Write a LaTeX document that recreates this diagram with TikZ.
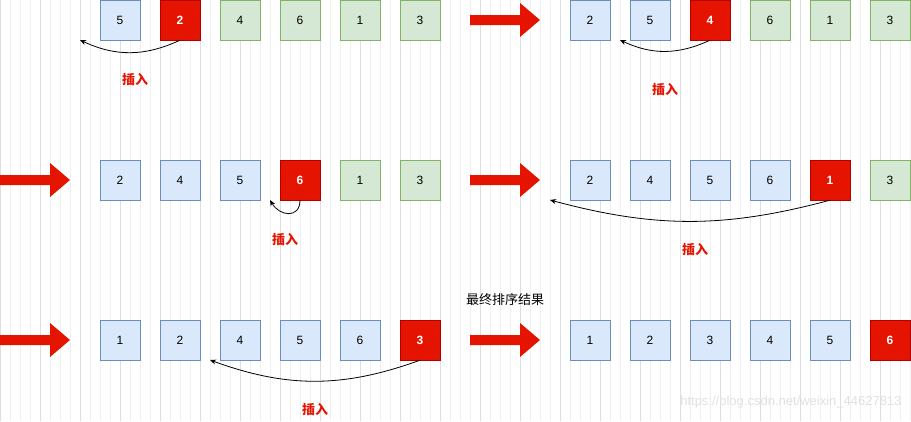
\documentclass[tikz,border=0pt]{standalone}
\usepackage{fontspec}
\setmainfont{Liberation Sans}
\newfontfamily\cjk{Noto Sans CJK SC}
\usetikzlibrary{arrows.meta}
\definecolor{bluefill}{HTML}{DAE8FC}
\definecolor{bluedraw}{HTML}{6C8EBF}
\definecolor{greenfill}{HTML}{D5E8D4}
\definecolor{greendraw}{HTML}{82B366}
\definecolor{redfill}{HTML}{E51400}
\definecolor{reddraw}{HTML}{B20000}
\tikzset{
  cell/.style={minimum size=40pt,inner sep=0pt,font=\fontsize{12}{12}\selectfont},
  sorted/.style={cell,draw=bluedraw,fill=bluefill},
  unsorted/.style={cell,draw=greendraw,fill=greenfill},
  current/.style={cell,draw=reddraw,fill=redfill,text=white,font=\fontsize{12}{12}\selectfont\bfseries},
  insertlabel/.style={text=redfill,font=\cjk\fontsize{13}{13}\selectfont\bfseries},
  move/.style={-{Stealth[length=6pt,width=5pt]},thick},
}
\newcommand{\bigarrow}[2]{% block arrow, left end at (#1,#2)
  \fill[redfill] (#1,#2-5) -- ++(50,0) -- ++(0,-12) -- ++(20,17) -- ++(-20,17) -- ++(0,-12) -- ++(-50,0) -- cycle;}
\begin{document}
\begin{tikzpicture}[x=1pt,y=-1pt]
  \useasboundingbox (0,0) rectangle (911,421);
  \draw[black!6,line width=0.5pt] (0,0) grid[step=10] (911,421);
  \draw[black!13,line width=0.5pt] (0,0) grid[step=40] (911,421);

  % row 1
  \foreach \v/\s [count=\i] in {5/sorted,2/current,4/unsorted,6/unsorted,1/unsorted,3/unsorted}
    \node[\s] (a\i) at (60+60*\i,20) {\v};
  \foreach \v/\s [count=\i] in {2/sorted,5/sorted,4/current,6/unsorted,1/unsorted,3/unsorted}
    \node[\s] (b\i) at (530+60*\i,20) {\v};
  \bigarrow{470}{20}
  \coordinate (a0) at (80,40);
  \coordinate (b0) at (620,40);
  \draw[move] (a2.south) to[bend left=25] (a0);
  \draw[move] (b3.south) to[bend left=25] (b0);
  \node[insertlabel] (la) at (135,80) {插入};
  \node[insertlabel] (lb) at (665,90) {插入};

  % row 2
  \foreach \v/\s [count=\i] in {2/sorted,4/sorted,5/sorted,6/current,1/unsorted,3/unsorted}
    \node[\s] (c\i) at (60+60*\i,180) {\v};
  \foreach \v/\s [count=\i] in {2/sorted,4/sorted,5/sorted,6/sorted,1/current,3/unsorted}
    \node[\s] (d\i) at (530+60*\i,180) {\v};
  \bigarrow{0}{180}
  \bigarrow{470}{180}
  \coordinate (c0) at (270,200);
  \coordinate (d0) at (550,200);
  \draw[move] (c4.south) to[out=-90,in=-60,looseness=1.6] (c0);
  \draw[move] (d5.south) to[bend left=15] (d0);
  \node[insertlabel] (lc) at (285,240) {插入};
  \node[insertlabel] (ld) at (695,250) {插入};

  % row 3
  \foreach \v/\s [count=\i] in {1/sorted,2/sorted,4/sorted,5/sorted,6/sorted,3/current}
    \node[\s] (e\i) at (60+60*\i,340) {\v};
  \foreach \v/\s [count=\i] in {1/sorted,2/sorted,3/sorted,4/sorted,5/sorted,6/current}
    \node[\s] (f\i) at (530+60*\i,340) {\v};
  \bigarrow{0}{340}
  \bigarrow{470}{340}
  \coordinate (e0) at (210,360);
  \draw[move] (e6.south) to[bend left=20] (e0);
  \node[insertlabel] (le) at (315,410) {插入};
  \node[font=\cjk\fontsize{13}{13}\selectfont] (title) at (505,300) {最终排序结果};
  \node[text=black!12,font=\fontsize{13}{13}\selectfont,anchor=east] (mark) at (905,402) {https://blog.csdn.net/weixin\_44627813};
\end{tikzpicture}
\end{document}
